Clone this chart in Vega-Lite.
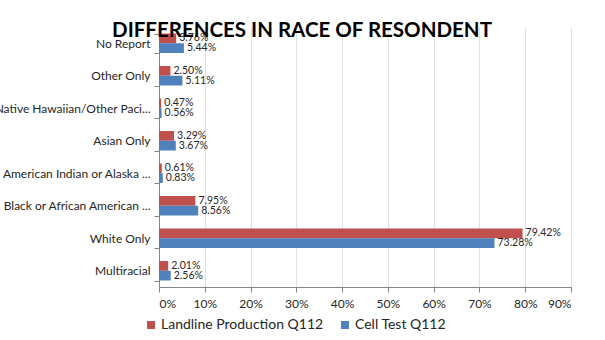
{
  "$schema": "https://vega.github.io/schema/vega-lite/v6.json",
  "width": 412,
  "height": 260,
  "autosize": {"type": "none"},
  "padding": {"left": 159, "top": 27, "right": 34, "bottom": 53},
  "background": "white",
  "title": {
    "text": "DIFFERENCES IN RACE OF RESONDENT",
    "font": "Lato",
    "fontSize": 20.5,
    "fontWeight": "bold",
    "color": "#000000",
    "anchor": "middle",
    "dx": -63,
    "offset": -20
  },
  "data": {
    "values": [
      {"race": "No Report", "series": "Landline Production Q112", "value": 0.0376},
      {"race": "No Report", "series": "Cell Test Q112", "value": 0.0544},
      {"race": "Other Only", "series": "Landline Production Q112", "value": 0.0250},
      {"race": "Other Only", "series": "Cell Test Q112", "value": 0.0511},
      {"race": "Native Hawaiian/Other Paci...", "series": "Landline Production Q112", "value": 0.0047},
      {"race": "Native Hawaiian/Other Paci...", "series": "Cell Test Q112", "value": 0.0056},
      {"race": "Asian Only", "series": "Landline Production Q112", "value": 0.0329},
      {"race": "Asian Only", "series": "Cell Test Q112", "value": 0.0367},
      {"race": "American Indian or Alaska ...", "series": "Landline Production Q112", "value": 0.0061},
      {"race": "American Indian or Alaska ...", "series": "Cell Test Q112", "value": 0.0083},
      {"race": "Black or African American ...", "series": "Landline Production Q112", "value": 0.0795},
      {"race": "Black or African American ...", "series": "Cell Test Q112", "value": 0.0856},
      {"race": "White Only", "series": "Landline Production Q112", "value": 0.7942},
      {"race": "White Only", "series": "Cell Test Q112", "value": 0.7328},
      {"race": "Multiracial", "series": "Landline Production Q112", "value": 0.0201},
      {"race": "Multiracial", "series": "Cell Test Q112", "value": 0.0256}
    ]
  },
  "encoding": {
    "y": {
      "field": "race",
      "type": "nominal",
      "sort": null,
      "scale": {"paddingInner": 0.4, "paddingOuter": 0.2},
      "axis": {
        "title": null,
        "tickBand": "extent",
        "labelFont": "Lato",
        "labelFontSize": 12,
        "labelColor": "#262626",
        "labelPadding": 4,
        "labelLimit": 300,
        "domainColor": "#868686",
        "tickColor": "#868686",
        "tickSize": 5,
        "grid": false
      }
    },
    "yOffset": {
      "field": "series",
      "type": "nominal",
      "sort": ["Landline Production Q112", "Cell Test Q112"],
      "scale": {"paddingInner": 0, "paddingOuter": 0}
    },
    "x": {
      "field": "value",
      "type": "quantitative",
      "scale": {"domain": [0, 0.9], "nice": false},
      "axis": {
        "title": null,
        "values": [0, 0.1, 0.2, 0.3, 0.4, 0.5, 0.6, 0.7, 0.8, 0.9],
        "format": ".0%",
        "labelFont": "Lato",
        "labelFontSize": 12,
        "labelColor": "#262626",
        "labelPadding": 6,
        "domainColor": "#868686",
        "tickColor": "#868686",
        "tickSize": 5,
        "grid": true,
        "gridColor": "#d9e1ec",
        "gridWidth": 1
      }
    }
  },
  "layer": [
    {
      "mark": {"type": "bar"},
      "encoding": {
        "color": {
          "field": "series",
          "type": "nominal",
          "sort": ["Landline Production Q112", "Cell Test Q112"],
          "scale": {"domain": ["Landline Production Q112", "Cell Test Q112"], "range": ["#C0504D", "#4F81BD"]},
          "legend": {
            "title": null,
            "orient": "none",
            "direction": "horizontal",
            "legendX": -15,
            "legendY": 291,
            "symbolType": "square",
            "symbolSize": 64,
            "symbolStrokeWidth": 0,
            "labelFont": "Lato",
            "labelFontSize": 14,
            "labelColor": "#262626",
            "labelLimit": 400,
            "columnPadding": 14,
            "labelOffset": 3
          }
        }
      }
    },
    {
      "mark": {"type": "text", "align": "left", "baseline": "middle", "dx": 3, "font": "Lato", "fontSize": 10.5, "color": "#262626"},
      "encoding": {
        "text": {"field": "value", "type": "quantitative", "format": ".2%"}
      }
    }
  ],
  "config": {"view": {"stroke": null}}
}
